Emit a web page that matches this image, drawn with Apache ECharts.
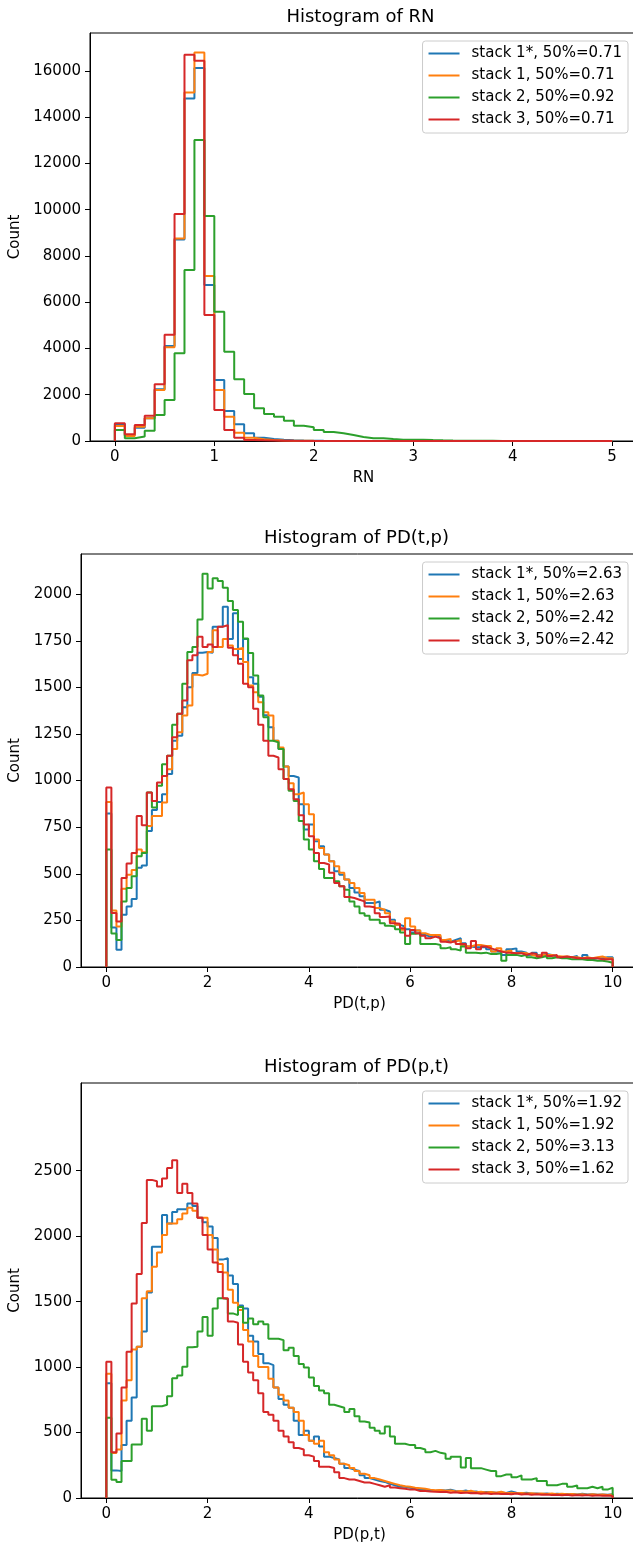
<!DOCTYPE html>
<html><head><meta charset="utf-8">
<script src="https://cdn.jsdelivr.net/npm/echarts@6/dist/echarts.min.js"></script>
<style>html,body{margin:0;padding:0;background:#fff}#c{width:633px;height:1545px}</style>
</head><body><div id="c"></div>
<script>
// ---------- data ----------
const rnRange = [0, 5];
const pdRange = [0, 10];
const rnNames = ['stack 1*, 50%=0.71', 'stack 1, 50%=0.71', 'stack 2, 50%=0.92', 'stack 3, 50%=0.71'];
const pdTPNames = ['stack 1*, 50%=2.63', 'stack 1, 50%=2.63', 'stack 2, 50%=2.42', 'stack 3, 50%=2.42'];
const pdPTNames = ['stack 1*, 50%=1.92', 'stack 1, 50%=1.92', 'stack 2, 50%=3.13', 'stack 3, 50%=1.62'];

const rnXTicks = [0, 1, 2, 3, 4, 5];
const pdXTicks = [0, 2, 4, 6, 8, 10];
const rnYTicks = [0, 2000, 4000, 6000, 8000, 10000, 12000, 14000, 16000];
const pdTPYTicks = [0, 250, 500, 750, 1000, 1250, 1500, 1750, 2000];
const pdPTYTicks = [0, 500, 1000, 1500, 2000, 2500];
const pdPTYMax = 3170;   // upper y limit of the PD(p,t) panel as shown

// Histogram of RN (50 bins)
const rnBlue = [720,245,576,980,2233,4107,8718,14813,16125,6744,2637,1297,720,331,144,86,50,30,20,12,8,5,4,3,2,2,1,1,1,0,0,0,0,0,0,0,0,0,0,0,0,0,0,0,0,0,0,0,0,0];
const rnOrange = [648,216,620,980,2205,4050,8761,15073,16802,7133,2205,1052,360,144,72,40,25,15,10,6,4,3,2,1,1,1,0,0,0,0,0,0,0,0,0,0,0,0,0,0,0,0,0,0,0,0,0,0,0,0];
const rnGreen = [475,120,190,447,1124,1772,3790,7392,13012,9727,5591,3862,2666,2032,1412,1167,1052,879,663,591,476,389,331,259,173,115,115,86,58,58,58,43,30,20,15,10,8,6,5,4,3,2,2,1,1,1,0,0,0,0];
const rnRed = [764,288,692,1095,2450,4597,9813,16700,16442,5447,1340,475,144,43,30,20,10,6,4,2,1,0,0,0,0,0,0,0,0,0,0,0,0,0,0,0,0,0,0,0,0,0,0,0,0,0,0,0,0,0];

// Histogram of PD(t,p) (100 bins)
const pdTPBlue = [824,212,92,280,325,365,532,544,729,842,
 885,927,1035,1214,1241,1394,1501,1577,1686,1690,
 1686,1825,1825,1933,1760,1897,1652,1760,1555,1519,
 1450,1350,1286,1214,1169,1076,1025,1017,873,738,
 765,675,648,603,567,514,495,469,424,400,
 379,343,343,352,307,298,253,226,217,203,
 185,196,172,163,172,163,145,136,145,154,
 127,110,106,106,106,95,83,83,65,95,
 100,83,77,65,77,65,70,65,56,52,
 52,52,59,47,65,41,47,47,52,52];
const pdTPOrange = [885,303,217,420,495,520,630,616,756,810,
 810,882,1061,1169,1259,1349,1403,1568,1564,1573,
 1690,1807,1717,1760,1724,1706,1712,1636,1510,1474,
 1420,1367,1349,1214,1178,1076,986,927,936,873,
 819,684,639,603,567,540,505,469,450,424,
 397,361,361,316,307,289,244,226,200,262,
 217,196,181,172,172,172,145,151,136,145,
 113,110,118,118,113,113,83,100,83,88,
 74,77,74,65,59,65,65,65,59,56,
 56,52,52,47,52,47,52,56,47,47];
const pdTPGreen = [630,180,145,352,424,487,594,612,936,855,
 972,1088,1133,1300,1358,1519,1690,1717,1864,2110,
 2031,2085,2071,2034,1963,1915,1852,1762,1685,1564,
 1457,1340,1214,1205,1169,1008,945,891,783,684,
 630,567,526,478,478,460,433,415,352,325,
 289,275,253,253,235,221,217,203,185,124,
 178,181,124,124,124,118,100,106,95,88,
 110,77,77,74,77,70,70,74,34,65,
 65,59,65,52,47,52,59,47,52,47,
 47,41,41,41,38,38,34,34,29,23];
const pdTPRed = [963,290,244,478,555,612,810,761,936,891,
 990,1025,1133,1232,1358,1430,1645,1672,1771,1717,
 1730,1717,1825,1834,1712,1672,1627,1519,1501,1385,
 1300,1214,1133,1124,1061,1008,954,900,814,765,
 702,612,558,550,505,450,433,375,370,361,
 352,325,320,289,268,271,235,232,208,167,
 199,181,167,154,163,154,136,131,140,124,
 124,100,140,95,110,100,92,83,77,77,
 74,74,65,74,70,56,77,59,65,52,
 56,52,47,47,47,47,47,41,41,41];

// Histogram of PD(p,t) (100 bins)
const pdPTBlue = [877,211,207,404,591,767,1156,1272,1569,1920,
 1920,2162,2096,2184,2206,2206,2250,2230,2140,2107,
 2074,1986,1821,1832,1700,1635,1470,1448,1239,1195,
 1100,1030,1015,844,756,712,690,591,481,514,
 437,470,393,316,305,294,261,229,217,206,
 174,152,141,130,123,108,97,86,86,79,
 75,64,64,57,53,60,57,64,53,50,
 57,46,50,42,46,44,40,42,38,50,
 40,36,40,33,35,31,35,29,33,30,
 28,31,27,33,26,29,24,27,25,28];
const pdPTOrange = [949,343,371,745,899,1134,1156,1525,1580,1766,
 1876,2008,2096,2096,2129,2173,2217,2195,2140,2140,
 2008,1898,1788,1722,1591,1492,1437,1283,1195,1085,
 1000,1000,910,844,789,745,690,657,591,481,
 437,415,437,349,327,294,261,250,229,206,
 185,174,152,141,130,119,108,97,90,86,
 79,75,70,64,60,62,55,58,50,53,
 47,55,44,48,42,45,40,48,37,41,
 36,39,34,37,32,35,31,34,29,32,
 28,30,27,29,25,28,24,27,23,26];
const pdPTGreen = [613,140,123,283,283,409,409,606,514,701,
 701,712,778,914,936,1002,1151,1156,1272,1382,
 1239,1448,1525,1520,1410,1397,1459,1338,1371,1327,
 1349,1327,1217,1217,1206,1129,1147,1085,1024,997,
 921,855,822,800,712,701,690,657,679,624,
 584,576,536,514,492,547,470,415,415,404,
 404,382,371,349,360,345,338,300,316,316,
 233,305,228,228,217,206,206,167,180,180,
 158,173,141,141,152,130,130,97,97,108,
 108,86,95,75,75,86,75,86,64,79];
const pdPTRed = [1041,349,492,844,1118,1485,1711,2100,2430,2420,
 2380,2440,2520,2580,2330,2400,2330,2250,2140,2008,
 1898,1799,1727,1525,1349,1338,1173,1041,958,900,
 800,657,635,591,514,470,426,382,371,327,
 316,283,239,239,229,196,152,141,141,130,
 119,119,108,97,86,97,80,75,70,64,
 64,53,53,50,48,45,48,40,44,38,
 41,36,39,33,37,31,35,30,33,28,
 34,27,30,25,28,24,27,22,25,21,
 24,20,23,19,22,18,21,17,20,16];

// ---------- chart ----------
const COLORS = ['#1f77b4', '#ff7f0e', '#2ca02c', '#d62728'];
const FONT = 'DejaVu Sans';

function stepPoints(range, vals) {
  const n = vals.length, w = (range[1] - range[0]) / n;
  const pts = [[range[0], 0]];
  for (let i = 0; i < n; i++) {
    const x0 = range[0] + i * w, x1 = range[0] + (i + 1) * w;
    pts.push([x0, vals[i]], [x1, vals[i]]);
  }
  pts.push([range[1], 0]);
  return pts;
}
const autoMax = vals => 1.05 * Math.max(...vals.map(v => Math.max(...v)));

const panels = [
  { title: 'Histogram of RN', xName: 'RN', range: rnRange, xTicks: rnXTicks, yTicks: rnYTicks,
    names: rnNames, vals: [rnBlue, rnOrange, rnGreen, rnRed],
    grid: { left: 90, top: 33, width: 547, height: 408 }, pad: 0.25, yGap: 65 },
  { title: 'Histogram of PD(t,p)', xName: 'PD(t,p)', range: pdRange, xTicks: pdXTicks, yTicks: pdTPYTicks,
    names: pdTPNames, vals: [pdTPBlue, pdTPOrange, pdTPGreen, pdTPRed],
    grid: { left: 81, top: 554, width: 557, height: 413 }, pad: 0.5, yGap: 56 },
  { title: 'Histogram of PD(p,t)', xName: 'PD(p,t)', range: pdRange, xTicks: pdXTicks, yTicks: pdPTYTicks,
    names: pdPTNames, vals: [pdPTBlue, pdPTOrange, pdPTGreen, pdPTRed], yMax: pdPTYMax,
    grid: { left: 81, top: 1083, width: 557, height: 415 }, pad: 0.5, yGap: 56 }
];

const option = { animation: false, backgroundColor: '#fff', title: [], legend: [], grid: [], xAxis: [], yAxis: [], series: [] };
const axisCommon = {
  axisLine: { show: true, onZero: false, lineStyle: { color: '#000', width: 1 } },
  axisTick: { show: true, inside: false, length: 5, lineStyle: { color: '#000', width: 1 } },
  splitLine: { show: false },
};
panels.forEach((p, i) => {
  const g = p.grid;
  const ymax = p.yMax || autoMax(p.vals);
  option.grid.push(Object.assign({ show: true, borderColor: '#000', borderWidth: 1, backgroundColor: 'transparent', outerBoundsMode: 'none', containLabel: false }, g));
  option.title.push({
    text: p.title, left: g.left + g.width / 2 - 3, top: g.top - 27, textAlign: 'center', padding: 0,
    textStyle: { fontFamily: FONT, fontSize: 18, fontWeight: 'normal', color: '#000', lineHeight: 22 }
  });
  option.legend.push({
    data: p.names, orient: 'vertical', right: 5, top: g.top + 8, icon: 'rect', itemWidth: 31, itemHeight: 2,
    itemGap: 7, padding: [5, 6, 6, 6], borderColor: '#cccccc', borderWidth: 1, borderRadius: 3,
    backgroundColor: 'rgba(255,255,255,0.8)', selectedMode: false,
    textStyle: { fontFamily: FONT, fontSize: 15, color: '#000', lineHeight: 15, padding: [0, 0, 0, 7] }
  });
  option.xAxis.push(Object.assign({}, axisCommon, {
    type: 'value', gridIndex: i, min: p.range[0] - p.pad, max: p.range[1] + p.pad,
    name: p.xName, nameLocation: 'middle', nameGap: 30,
    nameTextStyle: { fontFamily: FONT, fontSize: 15, color: '#000' },
    axisTick: Object.assign({}, axisCommon.axisTick, { customValues: p.xTicks }),
    axisLabel: { customValues: p.xTicks, margin: 9, fontFamily: FONT, fontSize: 15, color: '#000', formatter: v => String(v) }
  }));
  option.yAxis.push(Object.assign({}, axisCommon, {
    type: 'value', gridIndex: i, min: 0, max: ymax,
    name: 'Count', nameLocation: 'middle', nameGap: p.yGap, nameRotate: 90,
    nameTextStyle: { fontFamily: FONT, fontSize: 15, color: '#000' },
    axisTick: Object.assign({}, axisCommon.axisTick, { customValues: p.yTicks }),
    axisLabel: { customValues: p.yTicks, margin: 9, fontFamily: FONT, fontSize: 15, color: '#000', formatter: v => String(v) }
  }));
  p.vals.forEach((vals, s) => {
    option.series.push({
      type: 'line', name: p.names[s], xAxisIndex: i, yAxisIndex: i, data: stepPoints(p.range, vals),
      showSymbol: false, symbol: 'none', silent: true, z: 2 + s,
      lineStyle: { color: COLORS[s], width: 2 }, itemStyle: { color: COLORS[s] }
    });
  });
});

const chart = echarts.init(document.getElementById('c'), null, { renderer: 'canvas' });
chart.setOption(option);
</script>
</body></html>
